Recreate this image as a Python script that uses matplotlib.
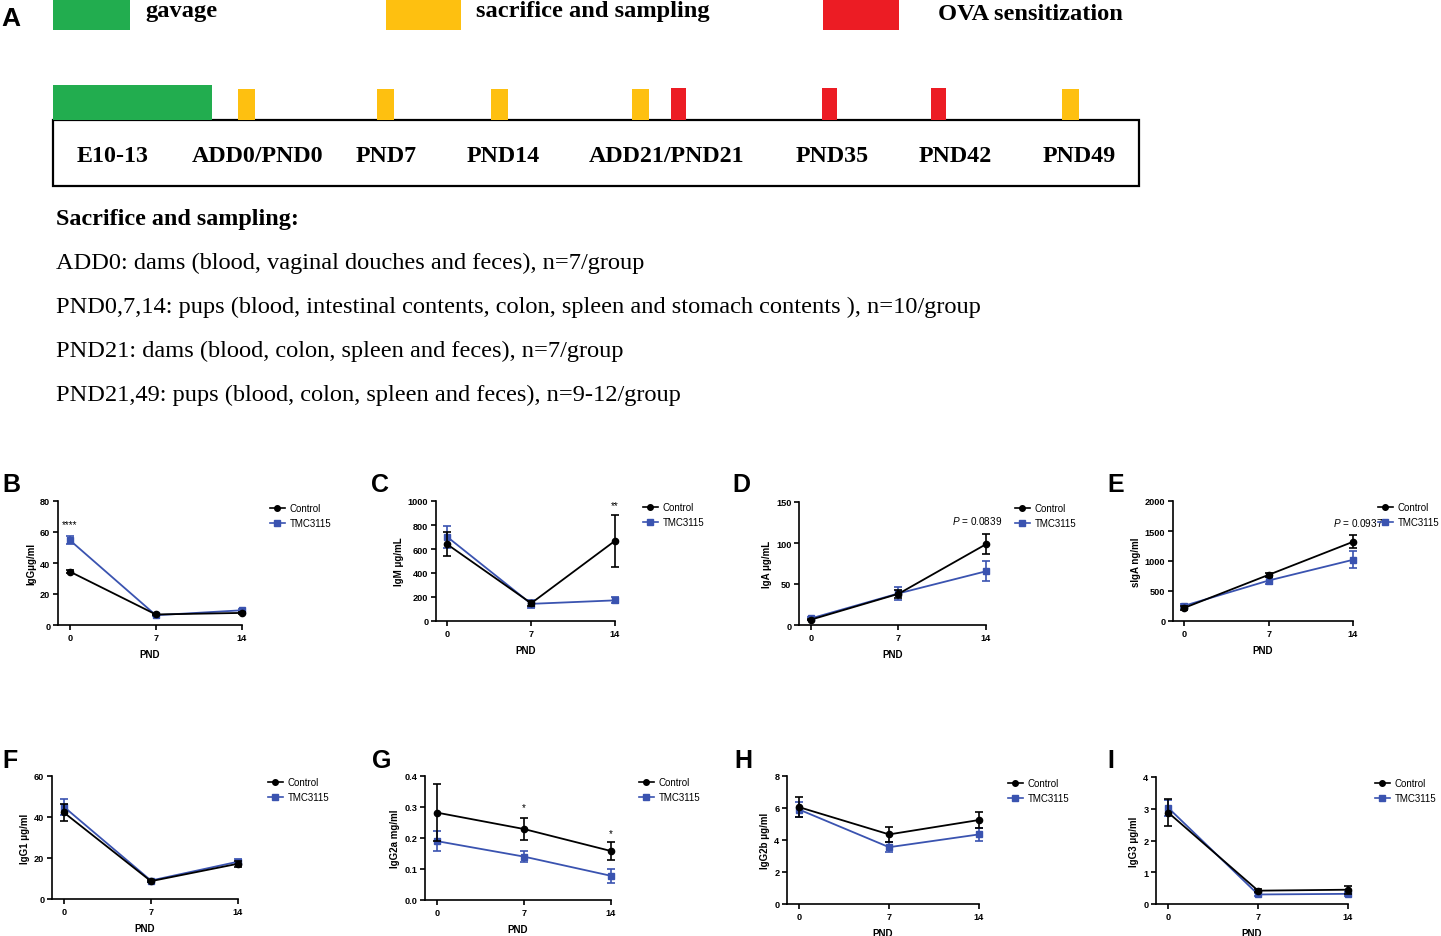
import matplotlib
matplotlib.use("Agg")
import matplotlib.pyplot as plt
from matplotlib.patches import Rectangle
from matplotlib.lines import Line2D

plt.rcParams['font.family'] = ['Liberation Sans', 'DejaVu Sans']
plt.rcParams['mathtext.fontset'] = 'custom'
plt.rcParams['mathtext.it'] = 'Liberation Sans:italic'
plt.rcParams['mathtext.rm'] = 'Liberation Sans'

W, H = 1441, 937

# ---- panel A: study design ----
legend_names = ["gavage", "sacrifice and sampling", "OVA sensitization"]
stage_labels = ["E10-13", "ADD0/PND0", "PND7", "PND14", "ADD21/PND21",
                "PND35", "PND42", "PND49"]
sampling_title = "Sacrifice and sampling:"
sampling_lines = [
    "ADD0: dams (blood, vaginal douches and feces), n=7/group",
    "PND0,7,14: pups (blood, intestinal contents, colon, spleen and stomach contents ), n=10/group",
    "PND21: dams (blood, colon, spleen and feces), n=7/group",
    "PND21,49: pups (blood, colon, spleen and feces), n=9-12/group",
]

# ---- panels B-I: antibody levels ----
pnd = [0, 7, 14]
groups = ["Control", "TMC3115"]

igg_ctrl, igg_ctrl_err = [34.5, 6.8, 7.8], [0.8, 0.5, 0.8]
igg_tmc, igg_tmc_err = [54.8, 6.3, 9.5], [2.5, 0.5, 1.0]

igm_ctrl, igm_ctrl_err = [638, 148, 668], [100, 20, 215]
igm_tmc, igm_tmc_err = [700, 143, 172], [90, 35, 25]

iga_ctrl, iga_ctrl_err = [6.5, 38, 98.5], [1.0, 5.0, 12.5]
iga_tmc, iga_tmc_err = [8.0, 38.5, 65.5], [1.5, 7.5, 12.0]

siga_ctrl, siga_ctrl_err = [220, 770, 1320], [30, 30, 110]
siga_tmc, siga_tmc_err = [255, 675, 1020], [30, 55, 140]

igg1_ctrl, igg1_ctrl_err = [42.2, 8.7, 17.2], [4.0, 0.6, 1.5]
igg1_tmc, igg1_tmc_err = [45.0, 9.0, 18.2], [4.0, 0.5, 1.2]

igg2a_ctrl, igg2a_ctrl_err = [0.282, 0.229, 0.158], [0.092, 0.035, 0.028]
igg2a_tmc, igg2a_tmc_err = [0.190, 0.140, 0.078], [0.033, 0.017, 0.022]

igg2b_ctrl, igg2b_ctrl_err = [6.05, 4.35, 5.25], [0.62, 0.45, 0.50]
igg2b_tmc, igg2b_tmc_err = [5.90, 3.55, 4.35], [0.45, 0.30, 0.40]

igg3_ctrl, igg3_ctrl_err = [2.88, 0.42, 0.45], [0.42, 0.05, 0.12]
igg3_tmc, igg3_tmc_err = [3.03, 0.30, 0.32], [0.25, 0.05, 0.06]

fig = plt.figure(figsize=(W / 100, H / 100), dpi=100)


def fx(x):
    return x / W


def fy(y):
    return 1 - y / H


# full-figure canvas in pixel coordinates for the schematic
ax0 = fig.add_axes([0, 0, 1, 1])
ax0.set_xlim(0, W)
ax0.set_ylim(H, 0)
ax0.axis("off")

green, yellow, red = "#22ad4f", "#fec010", "#ec1c24"
serif = ['Liberation Serif', 'DejaVu Serif']

ax0.text(1, 19, "A", fontsize=19, fontweight="bold", va="center", ha="left")

# legend of the schematic
for (x, w, c), name, tx, ty in zip([(53, 77, green), (386, 75, yellow), (823, 76, red)],
                                   legend_names, [145, 476, 938], [11, 11, 14]):
    ax0.add_patch(Rectangle((x, -2), w, 33, color=c, lw=0))
    ax0.text(tx, ty, name, fontsize=17.6, fontweight="bold", family=serif,
             va="center", ha="left")

# timeline box and event marks
ax0.add_patch(Rectangle((53, 121), 1086, 66, fill=False, ec="black", lw=1.6))
ax0.add_patch(Rectangle((53, 86), 159, 35, color=green, lw=0))
for xc in [246.5, 385.5, 499.5, 640.5, 1070]:
    ax0.add_patch(Rectangle((xc - 8.5, 90), 17, 31, color=yellow, lw=0))
for xc in [678.5, 829.5, 938.5]:
    ax0.add_patch(Rectangle((xc - 7.5, 89), 15, 32, color=red, lw=0))

for lab, xc in zip(stage_labels, [113, 258, 386, 503, 667, 832, 955, 1079]):
    ax0.text(xc, 156, lab, fontsize=17.3, fontweight="bold", family=serif,
             ha="center", va="center")

ax0.text(56, 219, sampling_title, fontsize=17.4, fontweight="bold", family=serif,
         ha="left", va="center")
for i, line in enumerate(sampling_lines):
    ax0.text(56, 263 + 44 * i, line, fontsize=17.6, family=serif,
             ha="left", va="center")

# ---- line panels ----
blue = "#3a53b0"
panels = [
    # letter, ylabel, ticks, ctrl, ctrl_err, tmc, tmc_err, box(l, r, b, t), letter xy, legend xy
    ("B", "IgGμg/ml", [0, 20, 40, 60, 80], igg_ctrl, igg_ctrl_err, igg_tmc, igg_tmc_err,
     (58, 242, 626, 502), (2, 485), (270, 511)),
    ("C", "IgM μg/mL", [0, 200, 400, 600, 800, 1000], igm_ctrl, igm_ctrl_err, igm_tmc, igm_tmc_err,
     (436, 615, 622, 502), (371, 485), (643, 510)),
    ("D", "IgA μg/mL", [0, 50, 100, 150], iga_ctrl, iga_ctrl_err, iga_tmc, iga_tmc_err,
     (799, 986, 626, 503), (732, 485), (1015, 511)),
    ("E", "sIgA ng/ml", [0, 500, 1000, 1500, 2000], siga_ctrl, siga_ctrl_err, siga_tmc, siga_tmc_err,
     (1173, 1353, 622, 502), (1107, 485), (1378, 510)),
    ("F", "IgG1 μg/ml", [0, 20, 40, 60], igg1_ctrl, igg1_ctrl_err, igg1_tmc, igg1_tmc_err,
     (52, 238, 900, 777), (2, 761), (268, 785)),
    ("G", "IgG2a mg/ml", [0.0, 0.1, 0.2, 0.3, 0.4], igg2a_ctrl, igg2a_ctrl_err, igg2a_tmc, igg2a_tmc_err,
     (425, 611, 901, 777), (372, 761), (639, 785)),
    ("H", "IgG2b μg/ml", [0, 2, 4, 6, 8], igg2b_ctrl, igg2b_ctrl_err, igg2b_tmc, igg2b_tmc_err,
     (787, 979, 905, 777), (734, 761), (1008, 786)),
    ("I", "IgG3 μg/ml", [0, 1, 2, 3, 4], igg3_ctrl, igg3_ctrl_err, igg3_tmc, igg3_tmc_err,
     (1156, 1348, 905, 778), (1107, 761), (1375, 786)),
]

axes = {}
for letter, ylab, yt, c, ce, t, te, (l, r, b, tp), (lx, ly), (gx, gy) in panels:
    ax = fig.add_axes([fx(l), fy(b), (r - l) / W, (b - tp) / H])
    axes[letter] = ax
    ax.errorbar(pnd, t, yerr=te, color=blue, marker="s", ms=4.5, lw=1.3,
                elinewidth=1.2, capsize=3, capthick=1.2, clip_on=False, zorder=3)
    ax.errorbar(pnd, c, yerr=ce, color="black", marker="o", ms=4.5, lw=1.3,
                elinewidth=1.2, capsize=3, capthick=1.2, clip_on=False, zorder=4)
    ax.set_xlim(-0.95, 14)
    ax.set_ylim(yt[0], yt[-1])
    ax.set_xticks(pnd)
    ax.set_yticks(yt)
    if letter == "G":
        ax.set_yticklabels([f"{v:.1f}" for v in yt])
    for s in ["top", "right"]:
        ax.spines[s].set_visible(False)
    for s in ["left", "bottom"]:
        ax.spines[s].set_linewidth(1.2)
    ax.tick_params(width=1.2, length=3.5, labelsize=6.6, pad=2)
    for lbl in ax.get_xticklabels() + ax.get_yticklabels():
        lbl.set_fontweight("bold")
    ax.set_xlabel("PND", fontsize=7, fontweight="bold", labelpad=5)
    ax.set_ylabel(ylab, fontsize=7, fontweight="bold", labelpad=3)
    ax.patch.set_alpha(0)

    fig.text(fx(lx), fy(ly), letter, fontsize=18, fontweight="bold",
             ha="left", va="center")

    handles = [Line2D([], [], color="black", marker="o", ms=4, lw=1.2),
               Line2D([], [], color=blue, marker="s", ms=4, lw=1.2)]
    ax.legend(handles, groups, loc="upper left", bbox_to_anchor=(fx(gx), fy(gy - 7)),
              bbox_transform=fig.transFigure, frameon=False, fontsize=7.0,
              handlelength=1.5, handletextpad=0.5, borderpad=0, borderaxespad=0,
              labelspacing=0.55)

# significance marks
axes["B"].text(0, 65, "****", fontsize=7, ha="center", va="center")
axes["C"].text(14, 965, "**", fontsize=7, ha="center", va="center")
axes["D"].text(13.3, 128, r"$\it{P}$ = 0.0839", fontsize=7.2, ha="center", va="center")
axes["E"].text(14.4, 1650, r"$\it{P}$ = 0.0937", fontsize=7.2, ha="center", va="center")
axes["G"].text(7, 0.30, "*", fontsize=7, ha="center", va="center")
axes["G"].text(14, 0.215, "*", fontsize=7, ha="center", va="center")

fig.savefig("out.png", dpi=100)
